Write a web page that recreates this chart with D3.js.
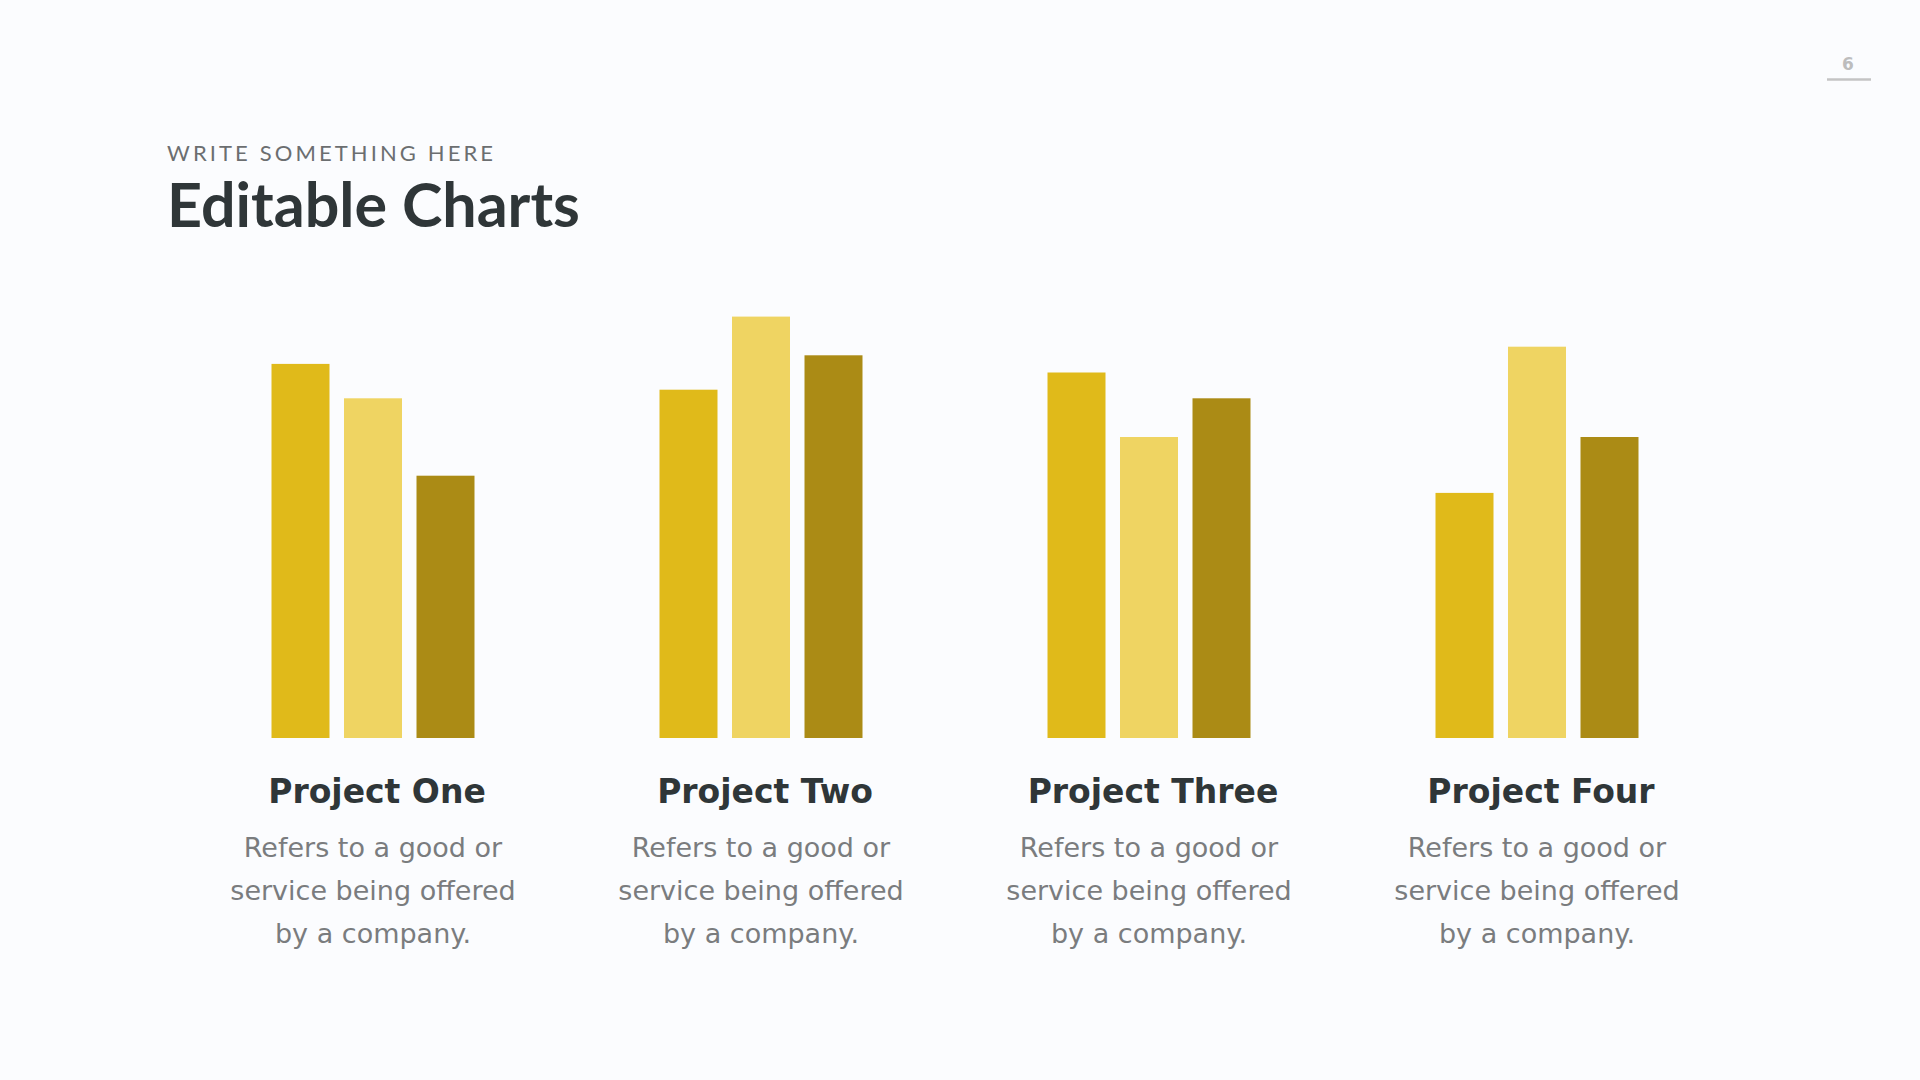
<!DOCTYPE html>
<html>
<head>
<meta charset="utf-8">
<script src="https://cdn.jsdelivr.net/npm/d3@7"></script>
<style>
  html, body { margin: 0; padding: 0; background: #fbfcfe; }
  svg { display: block; }
</style>
</head>
<body>
<svg id="chart" width="1920" height="1080"></svg>
<script>
"use strict";

var projects = ['Project One', 'Project Two', 'Project Three', 'Project Four'];
var series = ['Series 1', 'Series 2', 'Series 3'];
var series1 = [87, 81, 85, 57];
var series2 = [79, 98, 70, 91];
var series3 = [61, 89, 79, 70];
var descLines = ['Refers to a good or', 'service being offered', 'by a company.'];
var colors = ['#e0ba1a', '#efd462', '#ab8b15'];

function draw_chart(svg) {
  svg.html(null);

  svg.append('rect')
    .attr('width', 1920).attr('height', 1080)
    .attr('fill', '#fbfcfe');

  // header
  svg.append('text')
    .attr('x', 167).attr('y', 161)
    .attr('font-family', 'Lato')
    .attr('font-size', 22)
    .attr('letter-spacing', 3.1)
    .attr('fill', '#6b6e70')
    .text('WRITE SOMETHING HERE');

  svg.append('text')
    .attr('x', 167).attr('y', 227)
    .attr('font-family', 'Lato')
    .attr('font-weight', 700)
    .attr('font-size', 61)
    .attr('fill', '#2f3638')
    .text('Editable Charts');

  // page number
  svg.append('text')
    .attr('x', 1848).attr('y', 70)
    .attr('text-anchor', 'middle')
    .attr('font-family', 'DejaVu Sans')
    .attr('font-weight', 700)
    .attr('font-size', 17)
    .attr('fill', '#bdbdbd')
    .text('6');
  svg.append('line')
    .attr('x1', 1827).attr('x2', 1871)
    .attr('y1', 79.5).attr('y2', 79.5)
    .attr('stroke', '#c4c4c4')
    .attr('stroke-width', 2.5);

  var values = [series1, series2, series3];
  var data = projects.map(function (p, i) {
    return { project: p, vals: series.map(function (s, j) { return { key: s, idx: j, value: values[j][i] }; }) };
  });

  var X0 = d3.scaleBand().domain(projects).range([179, 1731]).padding(0);
  var X1 = d3.scaleBand().domain(series).range([92.5, 295.5]).paddingInner(0.2);
  var Y = d3.scaleLinear().domain([0, 100]).range([738, 308]);

  var groups = svg.append('g').attr('class', 'bars')
    .selectAll('g')
    .data(data)
    .join('g')
    .attr('transform', function (d) { return 'translate(' + X0(d.project) + ',0)'; });

  groups.selectAll('rect')
    .data(function (d) { return d.vals; })
    .join('rect')
    .attr('x', function (d) { return X1(d.key); })
    .attr('width', X1.bandwidth())
    .attr('y', function (d) { return Y(d.value); })
    .attr('height', function (d) { return Y(0) - Y(d.value); })
    .attr('fill', function (d) { return colors[d.idx]; });

  // labels under each group
  groups.append('text')
    .attr('x', X0.bandwidth() / 2 + 4)
    .attr('y', 803)
    .attr('text-anchor', 'middle')
    .attr('font-family', 'DejaVu Sans')
    .attr('font-weight', 700)
    .attr('font-size', 33)
    .attr('fill', '#2f3638')
    .text(function (d) { return d.project; });

  groups.each(function () {
    var g = d3.select(this);
    descLines.forEach(function (line, k) {
      g.append('text')
        .attr('x', X0.bandwidth() / 2)
        .attr('y', 857 + k * 43)
        .attr('text-anchor', 'middle')
        .attr('font-family', 'DejaVu Sans')
        .attr('font-size', 27)
        .attr('fill', '#7a7c7e')
        .text(line);
    });
  });
}

draw_chart(d3.select('#chart'));
</script>
</body>
</html>
